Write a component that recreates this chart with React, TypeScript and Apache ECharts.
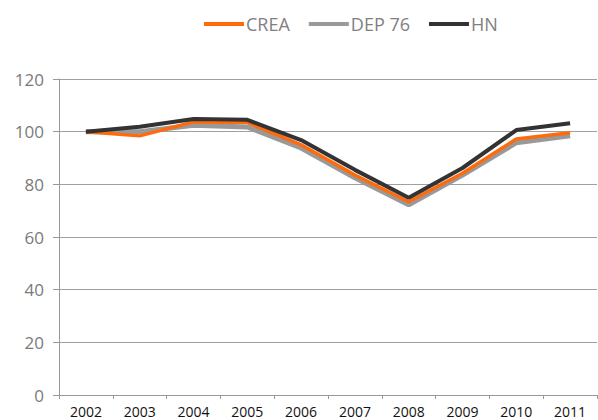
import React, { useEffect, useRef } from "react";
import * as echarts from "echarts";

const years = ["2002", "2003", "2004", "2005", "2006", "2007", "2008", "2009", "2010", "2011"];
const crea = [100, 98.4, 103.7, 103.5, 95, 83.5, 73.4, 84.2, 97.2, 99.6];
const dep76 = [100, 100, 102.4, 101.8, 93.8, 82.5, 72.2, 83.5, 95.8, 98.4];
const hn = [100, 101.9, 104.8, 104.5, 96.8, 85.5, 74.9, 86.2, 100.6, 103.2];
const yTicks = { min: 0, max: 120, interval: 20 };

const FONT = "Open Sans";

export default function App() {
  const ref = useRef<HTMLDivElement>(null);
  useEffect(() => {
    if (!ref.current) return;
    const chart = echarts.init(ref.current, null, { renderer: "svg" });
    chart.setOption({
      animation: false,
      legend: {
        top: 10,
        left: 199,
        data: ["CREA", "DEP 76", "HN"],
        icon: "rect",
        itemWidth: 40,
        itemHeight: 4,
        itemGap: 19,
        textStyle: { color: "#808080", fontSize: 18, fontFamily: FONT, padding: [0, 0, 0, -3] },
      },
      grid: { left: 59, right: 1, top: 79, bottom: 25, containLabel: false },
      xAxis: {
        type: "category",
        data: years,
        boundaryGap: true,
        axisLine: { show: true, lineStyle: { color: "#999999", width: 1 } },
        axisTick: { show: true, length: 4, lineStyle: { color: "#999999" } },
        axisLabel: { color: "#111111", fontSize: 14, fontFamily: FONT, margin: 9 },
      },
      yAxis: {
        type: "value",
        min: yTicks.min,
        max: yTicks.max,
        interval: yTicks.interval,
        axisLine: { show: true, lineStyle: { color: "#999999", width: 1 } },
        axisTick: { show: true, length: 6, lineStyle: { color: "#999999" } },
        axisLabel: { color: "#7a7a7a", fontSize: 17, fontFamily: FONT, margin: 15 },
        splitLine: { show: true, lineStyle: { color: "#a0a0a0", width: 1 } },
      },
      series: [
        {
          name: "DEP 76",
          type: "line",
          data: dep76,
          symbol: "none",
          color: "#999999",
          lineStyle: { color: "#999999", width: 5 },
          z: 1,
        },
        {
          name: "CREA",
          type: "line",
          data: crea,
          symbol: "none",
          color: "#FF6A0D",
          lineStyle: { color: "#FF6A0D", width: 3.5 },
          z: 2,
        },
        {
          name: "HN",
          type: "line",
          data: hn,
          symbol: "none",
          color: "#333333",
          lineStyle: { color: "#333333", width: 4 },
          z: 3,
        },
      ],
    });
    return () => chart.dispose();
  }, []);
  return <div ref={ref} style={{ width: 598, height: 420, position: "absolute", left: 0, top: 0 }} />;
}
